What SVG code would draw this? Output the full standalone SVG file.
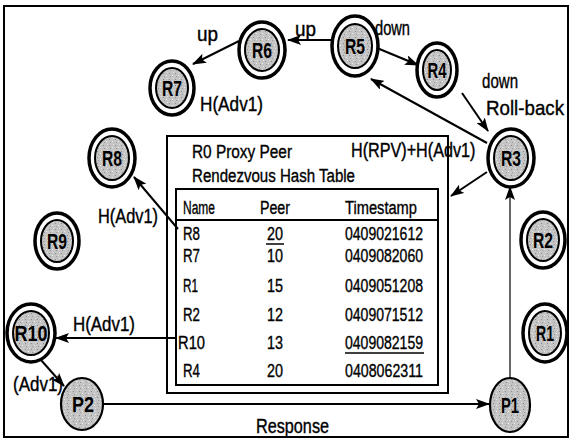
<svg xmlns="http://www.w3.org/2000/svg" width="572" height="441" viewBox="0 0 572 441">
<defs>
<pattern id="stip" width="6" height="6" patternUnits="userSpaceOnUse">
<rect width="6" height="6" fill="#c4c4c4"/>
<rect x="1" y="1" width="1" height="1" fill="#8a8a8a"/>
<rect x="4" y="3" width="1" height="1" fill="#eeeeee"/>
<rect x="2" y="4" width="1" height="1" fill="#999"/>
<rect x="5" y="0" width="1" height="1" fill="#e0e0e0"/>
</pattern>
<marker id="ah" markerWidth="14" markerHeight="10" refX="13" refY="5" orient="auto" markerUnits="userSpaceOnUse">
<path d="M0,0 L14,5 L0,10 L3,5 z" fill="#000"/>
</marker>
</defs>
<style>
.outer{fill:#fff;stroke:#000;stroke-width:3.5}
.inner{fill:url(#stip);stroke:#000;stroke-width:2}
.single{fill:url(#stip);stroke:#000;stroke-width:2.2}
.nl{font-family:"Liberation Sans",Arial,sans-serif;font-size:22px;font-weight:bold;fill:#000;text-anchor:middle}
.lb{font-family:"Liberation Sans",Arial,sans-serif;font-size:21px;fill:#000;stroke:#000;stroke-width:0.4}
.tx{font-family:"Liberation Sans",Arial,sans-serif;font-size:18px;fill:#000;stroke:#000;stroke-width:0.35}
.edge{stroke:#000;stroke-width:2;fill:none;marker-end:url(#ah)}
.thin{stroke:#000;stroke-width:1.2;fill:none;marker-end:url(#ah)}
.box{fill:none;stroke:#000;stroke-width:2}
</style>
<rect x="4" y="6" width="564" height="431" fill="#fff" stroke="#000" stroke-width="2"/>

<g id="table">
<rect class="box" x="167" y="136" width="281" height="257"/>
<rect class="box" x="176" y="189" width="262" height="196"/>
<line x1="176" y1="220" x2="438" y2="220" stroke="#000" stroke-width="2"/>
<text class="tx" x="192" y="158" textLength="100" lengthAdjust="spacingAndGlyphs">R0 Proxy Peer</text>
<text class="tx" x="192" y="182" textLength="163" lengthAdjust="spacingAndGlyphs">Rendezvous Hash Table</text>
<text class="tx" x="183" y="214" textLength="32" lengthAdjust="spacingAndGlyphs">Name</text>
<text class="tx" x="260" y="214" textLength="30" lengthAdjust="spacingAndGlyphs">Peer</text>
<text class="tx" x="345" y="214" textLength="72" lengthAdjust="spacingAndGlyphs">Timestamp</text>
<text class="tx" x="183" y="240" textLength="17" lengthAdjust="spacingAndGlyphs">R8</text>
<text class="tx" x="267" y="240" textLength="16" lengthAdjust="spacingAndGlyphs">20</text>
<line x1="266" y1="244" x2="284" y2="244" stroke="#000" stroke-width="1.5"/>
<text class="tx" x="345" y="240" textLength="78" lengthAdjust="spacingAndGlyphs">0409021612</text>
<text class="tx" x="183" y="262" textLength="17" lengthAdjust="spacingAndGlyphs">R7</text>
<text class="tx" x="267" y="262" textLength="16" lengthAdjust="spacingAndGlyphs">10</text>
<text class="tx" x="345" y="262" textLength="78" lengthAdjust="spacingAndGlyphs">0409082060</text>
<text class="tx" x="183" y="292" textLength="15" lengthAdjust="spacingAndGlyphs">R1</text>
<text class="tx" x="267" y="292" textLength="16" lengthAdjust="spacingAndGlyphs">15</text>
<text class="tx" x="345" y="292" textLength="78" lengthAdjust="spacingAndGlyphs">0409051208</text>
<text class="tx" x="183" y="321" textLength="17" lengthAdjust="spacingAndGlyphs">R2</text>
<text class="tx" x="267" y="321" textLength="16" lengthAdjust="spacingAndGlyphs">12</text>
<text class="tx" x="345" y="321" textLength="78" lengthAdjust="spacingAndGlyphs">0409071512</text>
<text class="tx" x="178" y="349" textLength="27" lengthAdjust="spacingAndGlyphs">R10</text>
<text class="tx" x="267" y="349" textLength="16" lengthAdjust="spacingAndGlyphs">13</text>
<text class="tx" x="345" y="349" textLength="78" lengthAdjust="spacingAndGlyphs">0409082159</text>
<line x1="345" y1="353" x2="424" y2="353" stroke="#000" stroke-width="1.5"/>
<text class="tx" x="183" y="377" textLength="17" lengthAdjust="spacingAndGlyphs">R4</text>
<text class="tx" x="267" y="377" textLength="16" lengthAdjust="spacingAndGlyphs">20</text>
<text class="tx" x="345" y="377" textLength="78" lengthAdjust="spacingAndGlyphs">0408062311</text>
</g>

<g id="connectors">
<line class="edge" x1="239" y1="41" x2="193" y2="64"/>
<line class="edge" x1="333" y1="40" x2="288" y2="40"/>
<line class="edge" x1="377" y1="48" x2="418" y2="65"/>
<line class="edge" x1="462" y1="93" x2="488" y2="131"/>
<line class="edge" x1="487" y1="143" x2="371" y2="79"/>
<line class="edge" x1="487" y1="172" x2="451" y2="196"/>
<line class="thin" x1="510" y1="378" x2="510" y2="187"/>
<line class="edge" x1="103" y1="404" x2="489" y2="404"/>
<line class="edge" x1="41" y1="360" x2="64" y2="386"/>
<line class="edge" x1="177" y1="338" x2="56" y2="338"/>
<line class="edge" x1="178" y1="229" x2="134" y2="177"/>
<text class="lb" x="197" y="41" textLength="21" lengthAdjust="spacingAndGlyphs">up</text>
<text class="lb" x="295" y="36" textLength="21" lengthAdjust="spacingAndGlyphs">up</text>
<text class="lb" x="375" y="35" textLength="35" lengthAdjust="spacingAndGlyphs">down</text>
<text class="lb" x="482" y="88" textLength="36" lengthAdjust="spacingAndGlyphs">down</text>
<text class="lb" x="486" y="115" textLength="78" lengthAdjust="spacingAndGlyphs">Roll-back</text>
<text class="lb" transform="translate(351,157) scale(0.77,1)" x="0" y="0">H(RPV)+H(Adv1)</text>
<text class="lb" x="200" y="111" textLength="63" lengthAdjust="spacingAndGlyphs">H(Adv1)</text>
<text class="lb" x="98" y="223" textLength="60" lengthAdjust="spacingAndGlyphs">H(Adv1)</text>
<text class="lb" x="73" y="331" textLength="62" lengthAdjust="spacingAndGlyphs">H(Adv1)</text>
<text class="lb" x="13" y="391" textLength="50" lengthAdjust="spacingAndGlyphs">(Adv1)</text>
<text class="lb" x="256" y="433" textLength="73" lengthAdjust="spacingAndGlyphs">Response</text>
</g>

<g id="R7"><ellipse class="outer" cx="172" cy="88" rx="22" ry="27"/><ellipse class="inner" cx="172" cy="88" rx="16" ry="20"/><text class="nl" x="172" y="96" textLength="20" lengthAdjust="spacingAndGlyphs">R7</text></g>
<g id="R6"><ellipse class="outer" cx="262" cy="50" rx="23" ry="28"/><ellipse class="inner" cx="262" cy="50" rx="17" ry="21"/><text class="nl" x="262" y="58" textLength="20" lengthAdjust="spacingAndGlyphs">R6</text></g>
<g id="R5"><ellipse class="outer" cx="355" cy="46" rx="23" ry="30"/><ellipse class="inner" cx="355" cy="46" rx="17" ry="22"/><text class="nl" x="355" y="54" textLength="20" lengthAdjust="spacingAndGlyphs">R5</text></g>
<g id="R4"><ellipse class="outer" cx="437" cy="70" rx="20" ry="27"/><ellipse class="inner" cx="437" cy="70" rx="14" ry="20"/><text class="nl" x="437" y="78" textLength="19" lengthAdjust="spacingAndGlyphs">R4</text></g>
<g id="R3"><ellipse class="outer" cx="511" cy="158" rx="23" ry="29"/><ellipse class="inner" cx="511" cy="158" rx="17" ry="22"/><text class="nl" x="511" y="166" textLength="20" lengthAdjust="spacingAndGlyphs">R3</text></g>
<g id="R8"><ellipse class="outer" cx="112" cy="158" rx="23" ry="29"/><ellipse class="inner" cx="112" cy="158" rx="17" ry="22"/><text class="nl" x="112" y="166" textLength="20" lengthAdjust="spacingAndGlyphs">R8</text></g>
<g id="R9"><ellipse class="outer" cx="57" cy="241" rx="22" ry="28"/><ellipse class="inner" cx="57" cy="241" rx="16" ry="21"/><text class="nl" x="57" y="249" textLength="20" lengthAdjust="spacingAndGlyphs">R9</text></g>
<g id="R10"><ellipse class="outer" cx="31" cy="333" rx="24" ry="29"/><ellipse class="inner" cx="31" cy="333" rx="18" ry="22"/><text class="nl" x="31" y="341" textLength="33" lengthAdjust="spacingAndGlyphs">R10</text></g>
<g id="R2"><ellipse class="outer" cx="543" cy="240" rx="22" ry="28"/><ellipse class="inner" cx="543" cy="240" rx="16" ry="21"/><text class="nl" x="543" y="248" textLength="20" lengthAdjust="spacingAndGlyphs">R2</text></g>
<g id="R1"><ellipse class="outer" cx="545" cy="333" rx="22" ry="29"/><ellipse class="inner" cx="545" cy="333" rx="16" ry="22"/><text class="nl" x="545" y="341" textLength="18" lengthAdjust="spacingAndGlyphs">R1</text></g>
<g id="P2"><ellipse class="single" cx="82" cy="404" rx="21" ry="26"/><text class="nl" x="83" y="412" textLength="22" lengthAdjust="spacingAndGlyphs">P2</text></g>
<g id="P1"><ellipse class="single" cx="510" cy="405" rx="20" ry="27"/><text class="nl" x="510" y="413" textLength="18" lengthAdjust="spacingAndGlyphs">P1</text></g>
</svg>
